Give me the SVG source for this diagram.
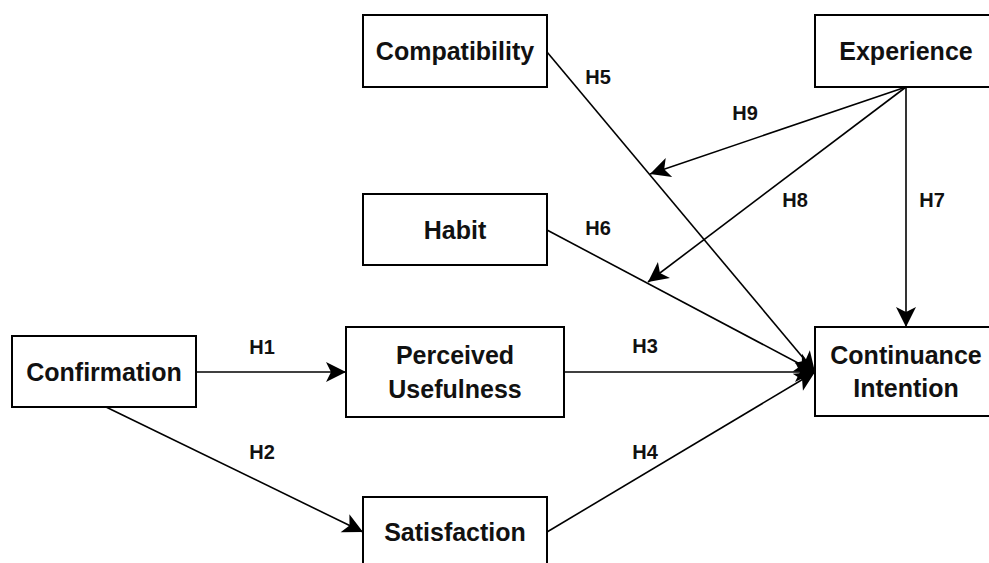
<svg xmlns="http://www.w3.org/2000/svg" width="989" height="563" viewBox="0 0 989 563">
<style>
.box{fill:#fff;stroke:#000;stroke-width:2}
.t{font-family:"Liberation Sans",Arial,sans-serif;font-weight:bold;font-size:25px;fill:#111;text-anchor:middle;dominant-baseline:central}
.l{font-family:"Liberation Sans",Arial,sans-serif;font-weight:bold;font-size:20px;fill:#111;text-anchor:middle;dominant-baseline:central}
.e{fill:none;stroke:#000;stroke-width:1.6}
</style>
<defs>
<marker id="a" viewBox="-21 -11 23 22" refX="0" refY="0" markerWidth="23" markerHeight="22" markerUnits="userSpaceOnUse" orient="auto">
<path d="M0,0 L-20,-10 L-15,0 L-20,10 Z" fill="#000"/>
</marker>
</defs>
<rect width="989" height="563" fill="#fff"/>
<g id="edges">
<line class="e" x1="196" y1="372" x2="346" y2="372" marker-end="url(#a)"/>
<line class="e" x1="106" y1="407" x2="363" y2="532" marker-end="url(#a)"/>
<line class="e" x1="564" y1="372" x2="815" y2="372" marker-end="url(#a)"/>
<line class="e" x1="547" y1="532" x2="815" y2="372" marker-end="url(#a)"/>
<line class="e" x1="547" y1="52" x2="815" y2="372" marker-end="url(#a)"/>
<line class="e" x1="547" y1="230" x2="815" y2="372" marker-end="url(#a)"/>
<line class="e" x1="906" y1="87" x2="906" y2="327" marker-end="url(#a)"/>
<line class="e" x1="906" y1="87" x2="650" y2="174" marker-end="url(#a)"/>
<line class="e" x1="906" y1="87" x2="648" y2="282" marker-end="url(#a)"/>
<text class="l" x="262" y="347">H1</text>
<text class="l" x="262" y="452">H2</text>
<text class="l" x="645" y="346">H3</text>
<text class="l" x="645" y="452">H4</text>
<text class="l" x="598" y="77">H5</text>
<text class="l" x="598" y="228">H6</text>
<text class="l" x="932" y="200">H7</text>
<text class="l" x="795" y="200">H8</text>
<text class="l" x="745" y="113">H9</text>
</g>
<g id="compatibility"><rect class="box" x="363" y="15" width="184" height="72"/><text class="t" x="455" y="51">Compatibility</text></g>
<g id="experience"><rect class="box" x="815" y="15" width="182" height="72"/><text class="t" x="906" y="51">Experience</text></g>
<g id="habit"><rect class="box" x="363" y="194" width="184" height="71"/><text class="t" x="455" y="230">Habit</text></g>
<g id="confirmation"><rect class="box" x="12" y="336" width="184" height="71"/><text class="t" x="104" y="372">Confirmation</text></g>
<g id="perceived-usefulness"><rect class="box" x="346" y="327" width="218" height="90"/><text class="t" x="455" y="355">Perceived</text><text class="t" x="455" y="389">Usefulness</text></g>
<g id="continuance-intention"><rect class="box" x="815" y="327" width="182" height="89"/><text class="t" x="906" y="355">Continuance</text><text class="t" x="906" y="388">Intention</text></g>
<g id="satisfaction"><rect class="box" x="363" y="497" width="184" height="72"/><text class="t" x="455" y="532">Satisfaction</text></g>
</svg>
